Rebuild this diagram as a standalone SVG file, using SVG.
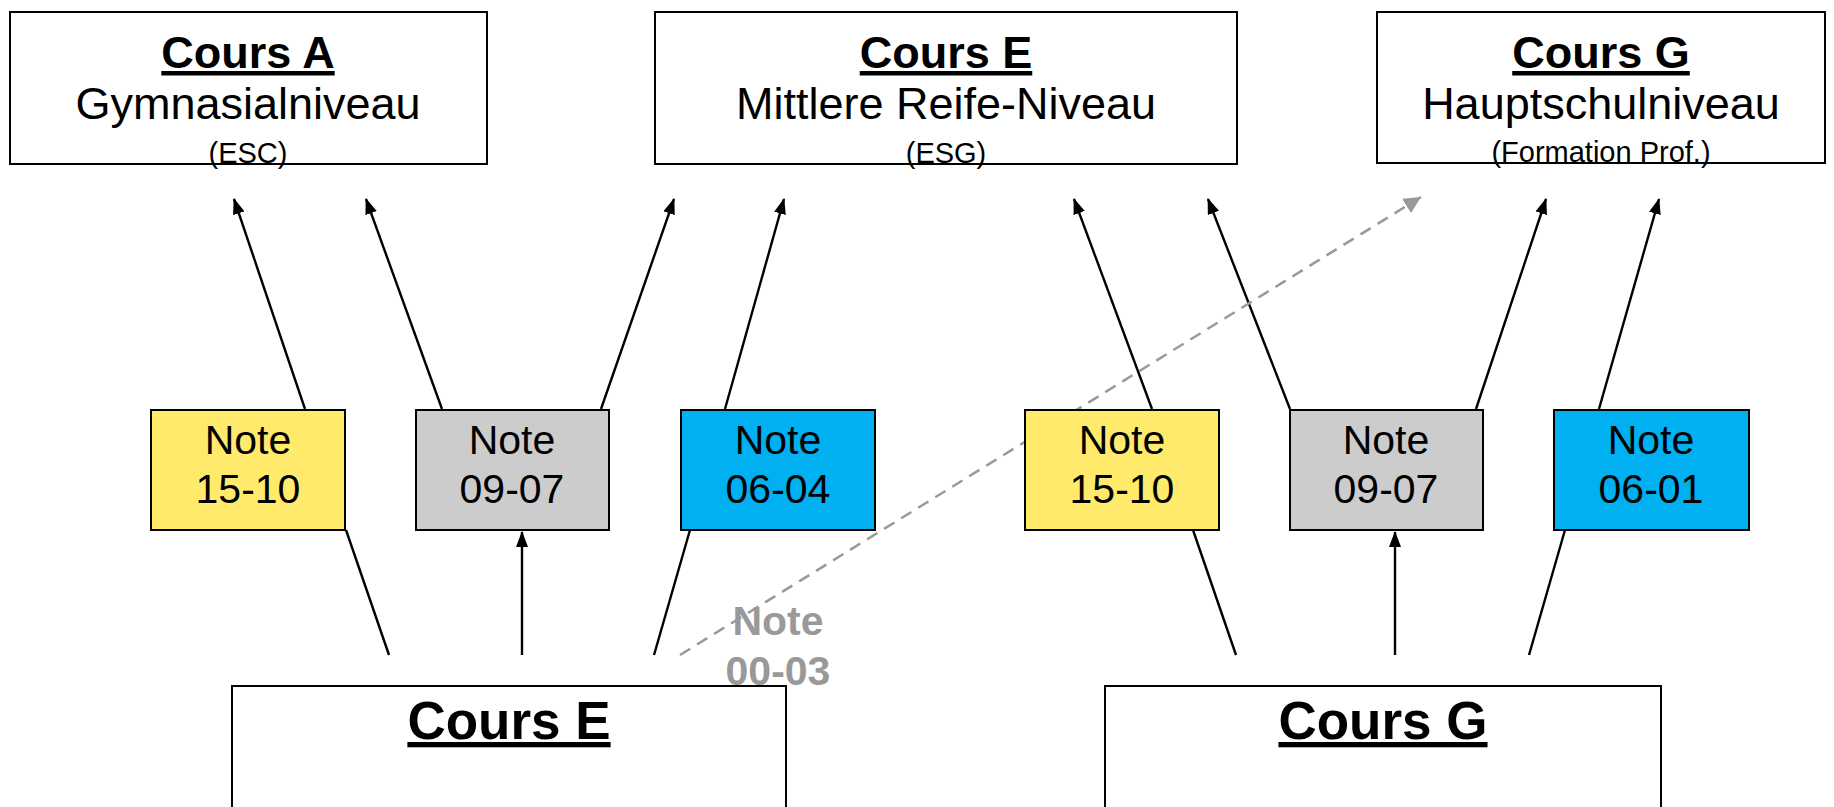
<svg xmlns="http://www.w3.org/2000/svg" width="1834" height="807" viewBox="0 0 1834 807">
<style>
  .box{fill:#fff;stroke:#000;stroke-width:2}
  .t{font-family:"Liberation Sans",Arial,sans-serif;text-anchor:middle;fill:#000}
  .title{font-size:45px;font-weight:bold;text-decoration:underline}
  .btitle{font-size:53px;font-weight:bold;text-decoration:underline}
  .sub{font-size:45px}
  .small{font-size:29px}
  .note{font-size:41px}
  .yel{fill:#FFEA6B;stroke:#000;stroke-width:2}
  .gry{fill:#CCCCCC;stroke:#000;stroke-width:2}
  .blu{fill:#00B0F0;stroke:#000;stroke-width:2}
  .ln{stroke:#000;stroke-width:2.4;fill:none}
  .dash{stroke:#999;stroke-width:2.5;fill:none;stroke-dasharray:12 8}
  .ghost{font-size:41px;font-weight:bold;fill:#999}
</style>
<defs>
  <marker id="ah" viewBox="0 0 16 12" refX="15" refY="6" markerWidth="16" markerHeight="12" markerUnits="userSpaceOnUse" orient="auto">
    <path d="M0,0 L16,6 L0,12 z" fill="#000"/>
  </marker>
  <marker id="ahg" viewBox="0 0 17 17" refX="17" refY="8.5" markerWidth="17" markerHeight="17" markerUnits="userSpaceOnUse" orient="auto">
    <path d="M0,0 L17,8.5 L0,17 z" fill="#999"/>
  </marker>
</defs>
<rect width="1834" height="807" fill="#fff"/>

<g id="cours-a-top">
  <rect class="box" x="10" y="12" width="477" height="152"/>
  <text class="t title" x="248" y="68">Cours A</text>
  <text class="t sub" x="248" y="119">Gymnasialniveau</text>
  <text class="t small" x="248" y="163">(ESC)</text>
</g>
<g id="cours-e-top">
  <rect class="box" x="655" y="12" width="582" height="152"/>
  <text class="t title" x="946" y="68">Cours E</text>
  <text class="t sub" x="946" y="119">Mittlere Reife-Niveau</text>
  <text class="t small" x="946" y="163">(ESG)</text>
</g>
<g id="cours-g-top">
  <rect class="box" x="1377" y="12" width="448" height="151"/>
  <text class="t title" x="1601" y="68">Cours G</text>
  <text class="t sub" x="1601" y="119">Hauptschulniveau</text>
  <text class="t small" x="1601" y="162">(Formation Prof.)</text>
</g>

<g id="connectors">
  <line class="ln" x1="305" y1="409" x2="234" y2="199" marker-end="url(#ah)"/>
  <line class="ln" x1="442" y1="409" x2="366" y2="199" marker-end="url(#ah)"/>
  <line class="ln" x1="601" y1="409" x2="674" y2="199" marker-end="url(#ah)"/>
  <line class="ln" x1="725" y1="409" x2="784" y2="199" marker-end="url(#ah)"/>
  <line class="ln" x1="1152" y1="409" x2="1074" y2="199" marker-end="url(#ah)"/>
  <line class="ln" x1="1290" y1="409" x2="1208" y2="199" marker-end="url(#ah)"/>
  <line class="ln" x1="1476" y1="409" x2="1546" y2="199" marker-end="url(#ah)"/>
  <line class="ln" x1="1599" y1="409" x2="1659" y2="199" marker-end="url(#ah)"/>

  <line class="ln" x1="389" y1="655" x2="346" y2="530"/>
  <line class="ln" x1="522" y1="655" x2="522" y2="532" marker-end="url(#ah)"/>
  <line class="ln" x1="654" y1="655" x2="690" y2="530"/>
  <line class="ln" x1="1236" y1="655" x2="1193" y2="530"/>
  <line class="ln" x1="1395" y1="655" x2="1395" y2="532" marker-end="url(#ah)"/>
  <line class="ln" x1="1529" y1="655" x2="1565" y2="530"/>

  <line class="dash" x1="680" y1="655" x2="1421" y2="197" marker-end="url(#ahg)"/>
</g>

<g id="note-e-15-10">
  <rect class="yel" x="151" y="410" width="194" height="120"/>
  <text class="t note" x="248" y="454">Note</text>
  <text class="t note" x="248" y="503">15-10</text>
</g>
<g id="note-e-09-07">
  <rect class="gry" x="416" y="410" width="193" height="120"/>
  <text class="t note" x="512" y="454">Note</text>
  <text class="t note" x="512" y="503">09-07</text>
</g>
<g id="note-e-06-04">
  <rect class="blu" x="681" y="410" width="194" height="120"/>
  <text class="t note" x="778" y="454">Note</text>
  <text class="t note" x="778" y="503">06-04</text>
</g>
<g id="note-g-15-10">
  <rect class="yel" x="1025" y="410" width="194" height="120"/>
  <text class="t note" x="1122" y="454">Note</text>
  <text class="t note" x="1122" y="503">15-10</text>
</g>
<g id="note-g-09-07">
  <rect class="gry" x="1290" y="410" width="193" height="120"/>
  <text class="t note" x="1386" y="454">Note</text>
  <text class="t note" x="1386" y="503">09-07</text>
</g>
<g id="note-g-06-01">
  <rect class="blu" x="1554" y="410" width="195" height="120"/>
  <text class="t note" x="1651" y="454">Note</text>
  <text class="t note" x="1651" y="503">06-01</text>
</g>

<g id="cours-e-bottom">
  <rect class="box" x="232" y="686" width="554" height="130"/>
  <text class="t btitle" x="509" y="739">Cours E</text>
</g>
<g id="cours-g-bottom">
  <rect class="box" x="1105" y="686" width="556" height="130"/>
  <text class="t btitle" x="1383" y="739">Cours G</text>
</g>

<g id="note-00-03">
  <text class="t ghost" x="778" y="635">Note</text>
  <text class="t ghost" x="778" y="685">00-03</text>
</g>
</svg>
